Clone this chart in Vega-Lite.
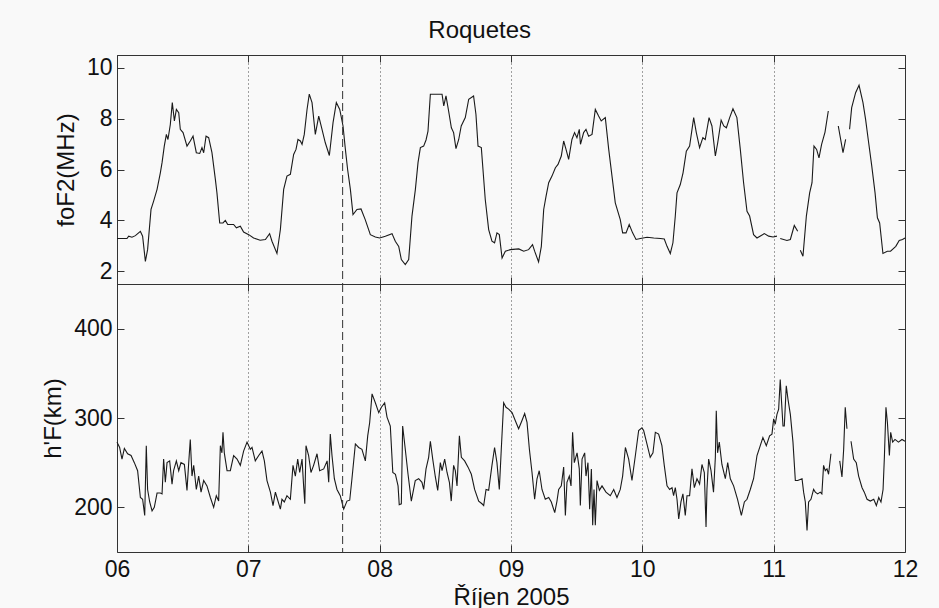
{
"$schema": "https://vega.github.io/schema/vega-lite/v6.json",
"background": "#f9f9f9",
"padding": {"left": 41, "top": 19, "right": 30, "bottom": 5},
"title": {"text": "Roquetes", "font": "Liberation Sans", "fontSize": 24, "fontWeight": "normal", "color": "#111111", "offset": 11, "anchor": "middle"},
"config": {
  "font": "Liberation Sans",
  "view": {"stroke": "#333333", "strokeWidth": 1},
  "axis": {"labelFont": "Liberation Sans", "titleFont": "Liberation Sans", "labelFontSize": 23, "titleFontSize": 24, "titleFontWeight": "normal", "labelColor": "#111111", "titleColor": "#111111", "tickColor": "#333333", "domain": false, "grid": false}
},
"datasets": {
"mark": [{"d": 7.718}],
"fof2": [
{"d":6.0,"v":3.29,"s":0},{"d":6.076,"v":3.29,"s":0},{"d":6.089,"v":3.38,"s":0},{"d":6.114,"v":3.34,"s":0},{"d":6.14,"v":3.4,"s":0},{"d":6.178,"v":3.57,"s":0},{"d":6.195,"v":3.38,"s":0},{"d":6.216,"v":2.39,"s":0},{"d":6.233,"v":2.85,"s":0},{"d":6.259,"v":4.43,"s":0},{"d":6.279,"v":4.76,"s":0},{"d":6.305,"v":5.22,"s":0},{"d":6.33,"v":5.87,"s":0},{"d":6.343,"v":6.27,"s":0},{"d":6.36,"v":6.92,"s":0},{"d":6.376,"v":7.38,"s":0},{"d":6.388,"v":7.18,"s":0},{"d":6.406,"v":7.77,"s":0},{"d":6.421,"v":8.63,"s":0},{"d":6.437,"v":7.91,"s":0},{"d":6.452,"v":8.36,"s":0},{"d":6.47,"v":8.23,"s":0},{"d":6.482,"v":7.58,"s":0},{"d":6.503,"v":7.45,"s":0},{"d":6.533,"v":6.92,"s":0},{"d":6.558,"v":7.12,"s":0},{"d":6.579,"v":7.31,"s":0},{"d":6.604,"v":6.66,"s":0},{"d":6.63,"v":6.63,"s":0},{"d":6.647,"v":6.86,"s":0},{"d":6.66,"v":6.66,"s":0},{"d":6.678,"v":7.31,"s":0},{"d":6.698,"v":7.25,"s":0},{"d":6.723,"v":6.66,"s":0},{"d":6.749,"v":5.61,"s":0},{"d":6.761,"v":5.08,"s":0},{"d":6.782,"v":3.9,"s":0},{"d":6.807,"v":3.9,"s":0},{"d":6.825,"v":4.0,"s":0},{"d":6.843,"v":3.84,"s":0},{"d":6.888,"v":3.84,"s":0},{"d":6.909,"v":3.71,"s":0},{"d":6.939,"v":3.77,"s":0},{"d":6.964,"v":3.54,"s":0},{"d":7.003,"v":3.44,"s":0},{"d":7.04,"v":3.31,"s":0},{"d":7.09,"v":3.22,"s":0},{"d":7.13,"v":3.25,"s":0},{"d":7.162,"v":3.48,"s":0},{"d":7.18,"v":3.18,"s":0},{"d":7.218,"v":2.7,"s":0},{"d":7.244,"v":3.64,"s":0},{"d":7.269,"v":5.22,"s":0},{"d":7.294,"v":5.74,"s":0},{"d":7.32,"v":5.81,"s":0},{"d":7.345,"v":6.59,"s":0},{"d":7.363,"v":6.79,"s":0},{"d":7.378,"v":7.18,"s":0},{"d":7.396,"v":7.12,"s":0},{"d":7.409,"v":6.99,"s":0},{"d":7.426,"v":7.38,"s":0},{"d":7.447,"v":8.36,"s":0},{"d":7.464,"v":8.96,"s":0},{"d":7.485,"v":8.63,"s":0},{"d":7.51,"v":7.38,"s":0},{"d":7.536,"v":8.1,"s":0},{"d":7.561,"v":7.58,"s":0},{"d":7.586,"v":7.05,"s":0},{"d":7.617,"v":6.55,"s":0},{"d":7.645,"v":7.84,"s":0},{"d":7.67,"v":8.63,"s":0},{"d":7.696,"v":8.36,"s":0},{"d":7.721,"v":7.71,"s":0},{"d":7.739,"v":6.79,"s":0},{"d":7.756,"v":6.0,"s":0},{"d":7.777,"v":5.22,"s":0},{"d":7.797,"v":4.23,"s":0},{"d":7.827,"v":4.43,"s":0},{"d":7.858,"v":4.45,"s":0},{"d":7.89,"v":4.03,"s":0},{"d":7.929,"v":3.44,"s":0},{"d":7.967,"v":3.35,"s":0},{"d":8.0,"v":3.31,"s":0},{"d":8.043,"v":3.38,"s":0},{"d":8.094,"v":3.48,"s":0},{"d":8.119,"v":3.18,"s":0},{"d":8.145,"v":2.98,"s":0},{"d":8.165,"v":2.46,"s":0},{"d":8.195,"v":2.26,"s":0},{"d":8.221,"v":2.46,"s":0},{"d":8.246,"v":4.17,"s":0},{"d":8.272,"v":5.22,"s":0},{"d":8.292,"v":6.27,"s":0},{"d":8.31,"v":6.86,"s":0},{"d":8.335,"v":6.92,"s":0},{"d":8.353,"v":7.16,"s":0},{"d":8.368,"v":7.51,"s":0},{"d":8.386,"v":8.96,"s":0},{"d":8.424,"v":8.96,"s":0},{"d":8.475,"v":8.96,"s":0},{"d":8.488,"v":8.5,"s":0},{"d":8.505,"v":8.89,"s":0},{"d":8.525,"v":8.3,"s":0},{"d":8.546,"v":7.64,"s":0},{"d":8.563,"v":7.45,"s":0},{"d":8.581,"v":6.82,"s":0},{"d":8.602,"v":7.18,"s":0},{"d":8.621,"v":7.71,"s":0},{"d":8.652,"v":8.04,"s":0},{"d":8.678,"v":8.76,"s":0},{"d":8.715,"v":8.89,"s":0},{"d":8.733,"v":8.17,"s":0},{"d":8.749,"v":6.92,"s":0},{"d":8.774,"v":6.86,"s":0},{"d":8.804,"v":4.82,"s":0},{"d":8.83,"v":3.64,"s":0},{"d":8.855,"v":3.18,"s":0},{"d":8.875,"v":3.12,"s":0},{"d":8.893,"v":3.51,"s":0},{"d":8.911,"v":3.44,"s":0},{"d":8.932,"v":2.52,"s":0},{"d":8.957,"v":2.79,"s":0},{"d":8.995,"v":2.85,"s":0},{"d":9.059,"v":2.88,"s":0},{"d":9.097,"v":2.79,"s":0},{"d":9.134,"v":2.85,"s":0},{"d":9.164,"v":3.05,"s":0},{"d":9.18,"v":2.79,"s":0},{"d":9.21,"v":2.37,"s":0},{"d":9.231,"v":2.98,"s":0},{"d":9.249,"v":4.43,"s":0},{"d":9.267,"v":4.95,"s":0},{"d":9.287,"v":5.48,"s":0},{"d":9.312,"v":5.74,"s":0},{"d":9.338,"v":6.07,"s":0},{"d":9.358,"v":6.2,"s":0},{"d":9.383,"v":6.53,"s":0},{"d":9.401,"v":7.12,"s":0},{"d":9.419,"v":6.79,"s":0},{"d":9.439,"v":6.4,"s":0},{"d":9.464,"v":7.18,"s":0},{"d":9.484,"v":7.45,"s":0},{"d":9.502,"v":7.25,"s":0},{"d":9.52,"v":7.58,"s":0},{"d":9.529,"v":6.99,"s":0},{"d":9.553,"v":7.45,"s":0},{"d":9.571,"v":7.58,"s":0},{"d":9.591,"v":7.31,"s":0},{"d":9.617,"v":7.38,"s":0},{"d":9.642,"v":8.36,"s":0},{"d":9.667,"v":8.1,"s":0},{"d":9.687,"v":7.91,"s":0},{"d":9.718,"v":8.04,"s":0},{"d":9.744,"v":6.79,"s":0},{"d":9.769,"v":5.74,"s":0},{"d":9.794,"v":4.69,"s":0},{"d":9.832,"v":4.03,"s":0},{"d":9.85,"v":3.51,"s":0},{"d":9.876,"v":3.51,"s":0},{"d":9.9,"v":3.84,"s":0},{"d":9.926,"v":3.51,"s":0},{"d":9.952,"v":3.25,"s":0},{"d":9.985,"v":3.29,"s":0},{"d":10.036,"v":3.34,"s":0},{"d":10.087,"v":3.31,"s":0},{"d":10.137,"v":3.29,"s":0},{"d":10.167,"v":3.27,"s":0},{"d":10.188,"v":2.98,"s":0},{"d":10.213,"v":2.7,"s":0},{"d":10.233,"v":3.12,"s":0},{"d":10.251,"v":4.17,"s":0},{"d":10.264,"v":5.08,"s":0},{"d":10.289,"v":5.41,"s":0},{"d":10.31,"v":5.87,"s":0},{"d":10.335,"v":6.72,"s":0},{"d":10.36,"v":6.92,"s":0},{"d":10.391,"v":8.04,"s":0},{"d":10.411,"v":7.45,"s":0},{"d":10.436,"v":6.86,"s":0},{"d":10.461,"v":7.25,"s":0},{"d":10.479,"v":7.18,"s":0},{"d":10.508,"v":8.04,"s":0},{"d":10.53,"v":7.71,"s":0},{"d":10.556,"v":6.53,"s":0},{"d":10.574,"v":7.05,"s":0},{"d":10.6,"v":7.94,"s":0},{"d":10.62,"v":7.71,"s":0},{"d":10.64,"v":7.64,"s":0},{"d":10.665,"v":8.04,"s":0},{"d":10.69,"v":8.39,"s":0},{"d":10.72,"v":8.04,"s":0},{"d":10.746,"v":6.79,"s":0},{"d":10.771,"v":5.48,"s":0},{"d":10.797,"v":4.36,"s":0},{"d":10.817,"v":4.17,"s":0},{"d":10.847,"v":3.44,"s":0},{"d":10.873,"v":3.31,"s":0},{"d":10.929,"v":3.48,"s":0},{"d":10.962,"v":3.38,"s":0},{"d":10.995,"v":3.35,"s":0},{"d":11.025,"v":3.38,"s":0},
{"d":11.05,"v":3.29,"s":1},{"d":11.101,"v":3.21,"s":1},{"d":11.127,"v":3.25,"s":1},{"d":11.157,"v":3.8,"s":1},{"d":11.183,"v":3.57,"s":1},
{"d":11.203,"v":2.83,"s":2},{"d":11.223,"v":2.59,"s":2},{"d":11.249,"v":4.17,"s":2},{"d":11.274,"v":5.08,"s":2},{"d":11.292,"v":5.48,"s":2},{"d":11.307,"v":6.92,"s":2},{"d":11.327,"v":6.79,"s":2},{"d":11.345,"v":6.46,"s":2},{"d":11.365,"v":6.99,"s":2},{"d":11.391,"v":7.47,"s":2},{"d":11.416,"v":8.3,"s":2},
{"d":11.492,"v":7.71,"s":3},{"d":11.528,"v":6.66,"s":3},{"d":11.548,"v":7.18,"s":3},
{"d":11.578,"v":7.58,"s":4},{"d":11.594,"v":8.43,"s":4},{"d":11.624,"v":9.02,"s":4},{"d":11.65,"v":9.31,"s":4},{"d":11.68,"v":8.63,"s":4},{"d":11.7,"v":7.97,"s":4},{"d":11.72,"v":7.18,"s":4},{"d":11.747,"v":6.13,"s":4},{"d":11.772,"v":5.08,"s":4},{"d":11.79,"v":4.1,"s":4},{"d":11.807,"v":3.9,"s":4},{"d":11.832,"v":2.7,"s":4},{"d":11.865,"v":2.79,"s":4},{"d":11.89,"v":2.79,"s":4},{"d":11.93,"v":2.98,"s":4},{"d":11.956,"v":3.21,"s":4},{"d":11.981,"v":3.25,"s":4},{"d":12.0,"v":3.31,"s":4}
],
"hf": [
{"d":6.0,"v":273,"s":0},{"d":6.02,"v":267,"s":0},{"d":6.038,"v":254,"s":0},{"d":6.056,"v":266,"s":0},{"d":6.081,"v":260,"s":0},{"d":6.107,"v":258,"s":0},{"d":6.132,"v":250,"s":0},{"d":6.157,"v":241,"s":0},{"d":6.178,"v":211,"s":0},{"d":6.195,"v":209,"s":0},{"d":6.211,"v":191,"s":0},{"d":6.223,"v":269,"s":0},{"d":6.233,"v":220,"s":0},{"d":6.249,"v":206,"s":0},{"d":6.267,"v":196,"s":0},{"d":6.284,"v":200,"s":0},{"d":6.305,"v":216,"s":0},{"d":6.33,"v":216,"s":0},{"d":6.343,"v":215,"s":0},{"d":6.355,"v":254,"s":0},{"d":6.368,"v":228,"s":0},{"d":6.381,"v":250,"s":0},{"d":6.401,"v":252,"s":0},{"d":6.419,"v":226,"s":0},{"d":6.431,"v":241,"s":0},{"d":6.452,"v":252,"s":0},{"d":6.47,"v":241,"s":0},{"d":6.487,"v":250,"s":0},{"d":6.513,"v":248,"s":0},{"d":6.533,"v":219,"s":0},{"d":6.546,"v":250,"s":0},{"d":6.558,"v":276,"s":0},{"d":6.571,"v":235,"s":0},{"d":6.584,"v":247,"s":0},{"d":6.604,"v":220,"s":0},{"d":6.622,"v":235,"s":0},{"d":6.64,"v":217,"s":0},{"d":6.66,"v":230,"s":0},{"d":6.685,"v":224,"s":0},{"d":6.711,"v":211,"s":0},{"d":6.736,"v":200,"s":0},{"d":6.756,"v":213,"s":0},{"d":6.774,"v":207,"s":0},{"d":6.787,"v":269,"s":0},{"d":6.799,"v":261,"s":0},{"d":6.807,"v":284,"s":0},{"d":6.817,"v":261,"s":0},{"d":6.838,"v":241,"s":0},{"d":6.863,"v":241,"s":0},{"d":6.888,"v":258,"s":0},{"d":6.914,"v":254,"s":0},{"d":6.939,"v":247,"s":0},{"d":6.964,"v":263,"s":0},{"d":6.99,"v":273,"s":0},{"d":7.015,"v":265,"s":0},{"d":7.028,"v":267,"s":0},{"d":7.053,"v":252,"s":0},{"d":7.079,"v":258,"s":0},{"d":7.104,"v":263,"s":0},{"d":7.122,"v":252,"s":0},{"d":7.142,"v":230,"s":0},{"d":7.168,"v":217,"s":0},{"d":7.188,"v":202,"s":0},{"d":7.206,"v":217,"s":0},{"d":7.218,"v":211,"s":0},{"d":7.244,"v":198,"s":0},{"d":7.256,"v":209,"s":0},{"d":7.274,"v":206,"s":0},{"d":7.294,"v":213,"s":0},{"d":7.32,"v":209,"s":0},{"d":7.34,"v":247,"s":0},{"d":7.358,"v":235,"s":0},{"d":7.376,"v":254,"s":0},{"d":7.391,"v":239,"s":0},{"d":7.409,"v":254,"s":0},{"d":7.421,"v":224,"s":0},{"d":7.43,"v":204,"s":0},{"d":7.439,"v":269,"s":0},{"d":7.459,"v":258,"s":0},{"d":7.477,"v":239,"s":0},{"d":7.497,"v":247,"s":0},{"d":7.523,"v":260,"s":0},{"d":7.543,"v":241,"s":0},{"d":7.574,"v":243,"s":0},{"d":7.6,"v":252,"s":0},{"d":7.612,"v":228,"s":0},{"d":7.624,"v":282,"s":0},{"d":7.637,"v":258,"s":0},{"d":7.655,"v":232,"s":0},{"d":7.675,"v":220,"s":0},{"d":7.7,"v":213,"s":0},{"d":7.726,"v":198,"s":0},{"d":7.751,"v":207,"s":0},{"d":7.772,"v":208,"s":0},{"d":7.789,"v":232,"s":0},{"d":7.815,"v":271,"s":0},{"d":7.84,"v":267,"s":0},{"d":7.865,"v":265,"s":0},{"d":7.891,"v":252,"s":0},{"d":7.909,"v":280,"s":0},{"d":7.924,"v":295,"s":0},{"d":7.942,"v":327,"s":0},{"d":7.967,"v":317,"s":0},{"d":7.993,"v":306,"s":0},{"d":8.013,"v":312,"s":0},{"d":8.038,"v":317,"s":0},{"d":8.056,"v":301,"s":0},{"d":8.081,"v":291,"s":0},{"d":8.1,"v":239,"s":0},{"d":8.12,"v":237,"s":0},{"d":8.14,"v":224,"s":0},{"d":8.149,"v":203,"s":0},{"d":8.165,"v":204,"s":0},{"d":8.175,"v":291,"s":0},{"d":8.195,"v":265,"s":0},{"d":8.216,"v":237,"s":0},{"d":8.241,"v":207,"s":0},{"d":8.271,"v":230,"s":0},{"d":8.297,"v":232,"s":0},{"d":8.322,"v":228,"s":0},{"d":8.335,"v":220,"s":0},{"d":8.353,"v":243,"s":0},{"d":8.373,"v":256,"s":0},{"d":8.386,"v":274,"s":0},{"d":8.404,"v":254,"s":0},{"d":8.424,"v":234,"s":0},{"d":8.442,"v":219,"s":0},{"d":8.462,"v":250,"s":0},{"d":8.475,"v":241,"s":0},{"d":8.495,"v":254,"s":0},{"d":8.513,"v":239,"s":0},{"d":8.531,"v":228,"s":0},{"d":8.545,"v":207,"s":0},{"d":8.563,"v":247,"s":0},{"d":8.576,"v":241,"s":0},{"d":8.589,"v":224,"s":0},{"d":8.607,"v":280,"s":0},{"d":8.622,"v":256,"s":0},{"d":8.647,"v":252,"s":0},{"d":8.673,"v":245,"s":0},{"d":8.698,"v":237,"s":0},{"d":8.723,"v":220,"s":0},{"d":8.754,"v":207,"s":0},{"d":8.779,"v":204,"s":0},{"d":8.792,"v":202,"s":0},{"d":8.81,"v":220,"s":0},{"d":8.83,"v":219,"s":0},{"d":8.855,"v":247,"s":0},{"d":8.875,"v":267,"s":0},{"d":8.893,"v":250,"s":0},{"d":8.911,"v":220,"s":0},{"d":8.926,"v":265,"s":0},{"d":8.944,"v":317,"s":0},{"d":8.962,"v":312,"s":0},{"d":8.982,"v":310,"s":0},{"d":9.008,"v":306,"s":0},{"d":9.033,"v":297,"s":0},{"d":9.058,"v":288,"s":0},{"d":9.083,"v":297,"s":0},{"d":9.104,"v":305,"s":0},{"d":9.122,"v":295,"s":0},{"d":9.14,"v":265,"s":0},{"d":9.16,"v":239,"s":0},{"d":9.18,"v":209,"s":0},{"d":9.198,"v":232,"s":0},{"d":9.215,"v":241,"s":0},{"d":9.236,"v":220,"s":0},{"d":9.261,"v":209,"s":0},{"d":9.287,"v":211,"s":0},{"d":9.307,"v":206,"s":0},{"d":9.333,"v":194,"s":0},{"d":9.35,"v":207,"s":0},{"d":9.363,"v":220,"s":0},{"d":9.383,"v":224,"s":0},{"d":9.401,"v":245,"s":0},{"d":9.414,"v":191,"s":0},{"d":9.426,"v":228,"s":0},{"d":9.444,"v":235,"s":0},{"d":9.457,"v":224,"s":0},{"d":9.469,"v":284,"s":0},{"d":9.482,"v":250,"s":0},{"d":9.503,"v":261,"s":0},{"d":9.52,"v":243,"s":0},{"d":9.528,"v":202,"s":0},{"d":9.541,"v":254,"s":0},{"d":9.561,"v":261,"s":0},{"d":9.571,"v":235,"s":0},{"d":9.586,"v":250,"s":0},{"d":9.599,"v":198,"s":0},{"d":9.612,"v":243,"s":0},{"d":9.622,"v":180,"s":0},{"d":9.632,"v":220,"s":0},{"d":9.642,"v":180,"s":0},{"d":9.655,"v":230,"s":0},{"d":9.673,"v":219,"s":0},{"d":9.693,"v":224,"s":0},{"d":9.723,"v":217,"s":0},{"d":9.756,"v":213,"s":0},{"d":9.782,"v":220,"s":0},{"d":9.807,"v":211,"s":0},{"d":9.832,"v":220,"s":0},{"d":9.85,"v":235,"s":0},{"d":9.871,"v":267,"s":0},{"d":9.896,"v":254,"s":0},{"d":9.921,"v":230,"s":0},{"d":9.947,"v":258,"s":0},{"d":9.972,"v":286,"s":0},{"d":9.997,"v":289,"s":0},{"d":10.01,"v":286,"s":0},{"d":10.035,"v":271,"s":0},{"d":10.06,"v":256,"s":0},{"d":10.081,"v":261,"s":0},{"d":10.099,"v":284,"s":0},{"d":10.124,"v":282,"s":0},{"d":10.149,"v":269,"s":0},{"d":10.167,"v":247,"s":0},{"d":10.188,"v":224,"s":0},{"d":10.208,"v":220,"s":0},{"d":10.226,"v":222,"s":0},{"d":10.238,"v":213,"s":0},{"d":10.251,"v":222,"s":0},{"d":10.264,"v":209,"s":0},{"d":10.277,"v":187,"s":0},{"d":10.294,"v":206,"s":0},{"d":10.309,"v":215,"s":0},{"d":10.327,"v":191,"s":0},{"d":10.34,"v":213,"s":0},{"d":10.36,"v":213,"s":0},{"d":10.378,"v":243,"s":0},{"d":10.396,"v":222,"s":0},{"d":10.416,"v":232,"s":0},{"d":10.436,"v":226,"s":0},{"d":10.454,"v":248,"s":0},{"d":10.472,"v":239,"s":0},{"d":10.485,"v":178,"s":0},{"d":10.492,"v":220,"s":0},{"d":10.505,"v":254,"s":0},{"d":10.523,"v":241,"s":0},{"d":10.542,"v":217,"s":0},{"d":10.556,"v":256,"s":0},{"d":10.563,"v":308,"s":0},{"d":10.573,"v":261,"s":0},{"d":10.586,"v":273,"s":0},{"d":10.606,"v":248,"s":0},{"d":10.632,"v":232,"s":0},{"d":10.65,"v":250,"s":0},{"d":10.67,"v":232,"s":0},{"d":10.695,"v":224,"s":0},{"d":10.725,"v":209,"s":0},{"d":10.754,"v":191,"s":0},{"d":10.777,"v":206,"s":0},{"d":10.797,"v":209,"s":0},{"d":10.822,"v":220,"s":0},{"d":10.847,"v":232,"s":0},{"d":10.873,"v":258,"s":0},{"d":10.898,"v":269,"s":0},{"d":10.918,"v":278,"s":0},{"d":10.944,"v":269,"s":0},{"d":10.969,"v":280,"s":0},{"d":10.987,"v":282,"s":0},{"d":11.0,"v":299,"s":0},{"d":11.012,"v":293,"s":0},{"d":11.025,"v":304,"s":0},{"d":11.038,"v":310,"s":0},{"d":11.05,"v":343,"s":0},{"d":11.071,"v":291,"s":0},{"d":11.081,"v":291,"s":0},{"d":11.096,"v":336,"s":0},{"d":11.109,"v":321,"s":0},{"d":11.127,"v":304,"s":0},{"d":11.147,"v":273,"s":0},{"d":11.165,"v":230,"s":0},{"d":11.183,"v":230,"s":0},{"d":11.216,"v":232,"s":0},{"d":11.228,"v":217,"s":0},{"d":11.241,"v":206,"s":0},{"d":11.254,"v":174,"s":0},{"d":11.266,"v":206,"s":0},{"d":11.284,"v":209,"s":0},{"d":11.304,"v":220,"s":0},{"d":11.317,"v":217,"s":0},{"d":11.335,"v":215,"s":0},{"d":11.355,"v":217,"s":0},{"d":11.367,"v":215,"s":0},{"d":11.38,"v":247,"s":0},{"d":11.393,"v":241,"s":0},{"d":11.406,"v":243,"s":0},{"d":11.418,"v":237,"s":0},{"d":11.436,"v":260,"s":0},
{"d":11.503,"v":252,"s":1},{"d":11.52,"v":234,"s":1},{"d":11.533,"v":265,"s":1},{"d":11.545,"v":312,"s":1},{"d":11.558,"v":288,"s":1},
{"d":11.589,"v":274,"s":2},{"d":11.609,"v":254,"s":2},{"d":11.629,"v":250,"s":2},{"d":11.647,"v":235,"s":2},{"d":11.673,"v":222,"s":2},{"d":11.69,"v":217,"s":2},{"d":11.711,"v":209,"s":2},{"d":11.736,"v":207,"s":2},{"d":11.762,"v":209,"s":2},{"d":11.782,"v":202,"s":2},{"d":11.8,"v":211,"s":2},{"d":11.817,"v":206,"s":2},{"d":11.833,"v":220,"s":2},{"d":11.843,"v":256,"s":2},{"d":11.855,"v":312,"s":2},{"d":11.866,"v":295,"s":2},{"d":11.881,"v":258,"s":2},{"d":11.891,"v":284,"s":2},{"d":11.906,"v":273,"s":2},{"d":11.924,"v":276,"s":2},{"d":11.95,"v":273,"s":2},{"d":11.977,"v":276,"s":2},{"d":12.0,"v":274,"s":2}
]
},
"spacing": 0,
"bounds": "flush",
"vconcat": [
{
  "width": 788, "height": 229,
  "layer": [
    {"data": {"name": "fof2"}, "mark": {"type": "line", "color": "#1a1a1a", "strokeWidth": 1.1},
     "encoding": {
       "x": {"field": "d", "type": "quantitative", "scale": {"domain": [6, 12], "nice": false, "zero": false},
             "axis": {"orient": "bottom", "values": [6,7,8,9,10,11,12], "labels": false, "tickSize": -7, "grid": true, "gridDash": [1,3], "gridColor": "#333333", "gridOpacity": 0.9, "title": null}},
       "y": {"field": "v", "type": "quantitative", "scale": {"domain": [1.5, 10.5], "nice": false, "zero": false},
             "axis": {"orient": "left", "values": [2,4,6,8,10], "tickSize": -7, "labelPadding": 12, "title": "foF2(MHz)", "titlePadding": 8}},
       "detail": {"field": "s", "type": "nominal"}
     }},
    {"data": {"name": "mark"}, "mark": {"type": "rule", "color": "#333333", "strokeDash": [8, 4], "strokeWidth": 1},
     "encoding": {"x": {"field": "d", "type": "quantitative", "axis": null}}},
    {"data": {"name": "fof2"}, "mark": {"type": "line", "opacity": 0},
     "encoding": {
       "x": {"field": "d", "type": "quantitative", "axis": {"orient": "top", "values": [6,7,8,9,10,11,12], "labels": false, "tickSize": -7, "title": null}},
       "y": {"field": "v", "type": "quantitative", "axis": {"orient": "right", "values": [2,4,6,8,10], "labels": false, "tickSize": -7, "title": null}},
       "detail": {"field": "s", "type": "nominal"}
     }}
  ],
  "resolve": {"axis": {"x": "independent", "y": "independent"}}
},
{
  "width": 788, "height": 268,
  "layer": [
    {"data": {"name": "hf"}, "mark": {"type": "line", "color": "#1a1a1a", "strokeWidth": 1.1},
     "encoding": {
       "x": {"field": "d", "type": "quantitative", "scale": {"domain": [6, 12], "nice": false, "zero": false},
             "axis": {"orient": "bottom", "values": [6,7,8,9,10,11,12], "tickSize": -7, "labelPadding": 13, "labelFlush": false, "labelExpr": "datum.value < 10 ? '0' + datum.value : '' + datum.value", "grid": true, "gridDash": [1,3], "gridColor": "#333333", "gridOpacity": 0.9, "title": "Říjen 2005", "titlePadding": 4}},
       "y": {"field": "v", "type": "quantitative", "scale": {"domain": [150, 450], "nice": false, "zero": false},
             "axis": {"orient": "left", "values": [200,300,400], "tickSize": -7, "labelPadding": 12, "title": "h'F(km)", "titlePadding": 8}},
       "detail": {"field": "s", "type": "nominal"}
     }},
    {"data": {"name": "mark"}, "mark": {"type": "rule", "color": "#333333", "strokeDash": [8, 4], "strokeWidth": 1},
     "encoding": {"x": {"field": "d", "type": "quantitative", "axis": null}}},
    {"data": {"name": "hf"}, "mark": {"type": "line", "opacity": 0},
     "encoding": {
       "x": {"field": "d", "type": "quantitative", "axis": {"orient": "top", "values": [6,7,8,9,10,11,12], "labels": false, "tickSize": -7, "title": null}},
       "y": {"field": "v", "type": "quantitative", "axis": {"orient": "right", "values": [200,300,400], "labels": false, "tickSize": -7, "title": null}},
       "detail": {"field": "s", "type": "nominal"}
     }}
  ],
  "resolve": {"axis": {"x": "independent", "y": "independent"}}
}
]
}
